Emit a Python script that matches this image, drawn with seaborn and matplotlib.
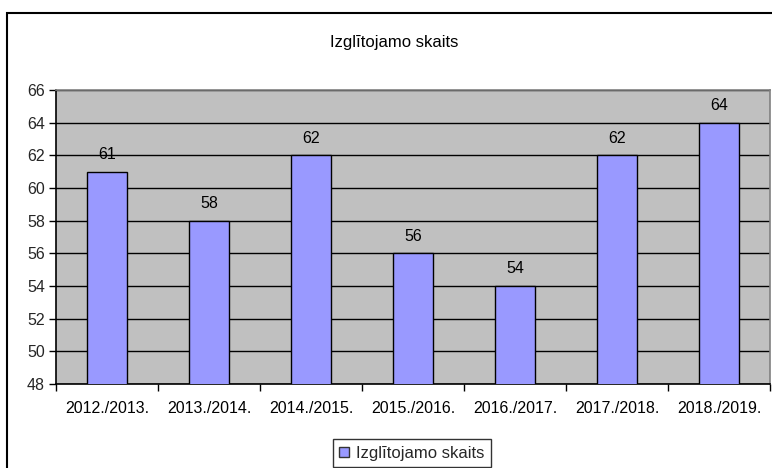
import matplotlib
matplotlib.use("Agg")
import matplotlib.pyplot as plt
import seaborn as sns
import pandas as pd
import numpy as np
from matplotlib.patches import Rectangle, Patch

years = ["2012./2013.", "2013./2014.", "2014./2015.", "2015./2016.",
         "2016./2017.", "2017./2018.", "2018./2019."]
counts = [61, 58, 62, 56, 54, 62, 64]
series_name = "Izglītojamo skaits"
title = "Izglītojamo skaits"
y_ticks = [48, 50, 52, 54, 56, 58, 60, 62, 64, 66]

sns.set_theme(style="white")
plt.rcParams['font.family'] = ['Liberation Sans', 'DejaVu Sans']

df = pd.DataFrame({"year": years, "count": counts})

W, H = 772, 468
fig = plt.figure(figsize=(W / 100, H / 100), dpi=100)
fig.patch.set_facecolor("white")
ax = fig.add_axes([56 / W, 1 - 384 / H, (770 - 56) / W, (384 - 90) / H])
ax.set_facecolor("#C0C0C0")

ax.set_ylim(48, 66)
ax.set_yticks(y_ticks)
ax.set_axisbelow(True)
ax.yaxis.grid(True, color="black", linewidth=1)
ax.xaxis.grid(False)

sns.barplot(data=df, x="year", y="count", color="#9999FF", width=0.4,
            edgecolor="black", linewidth=1, saturation=1, ax=ax, zorder=3)
ax.set_xlim(-0.5, len(years) - 0.5)

for i, v in enumerate(counts):
    ax.annotate(str(v), (i, v), xytext=(0, 7), textcoords="offset points",
                ha="center", va="bottom", fontsize=11.5, color="black")

ax.set_xlabel("")
ax.set_ylabel("")
ax.tick_params(axis="x", which="major", length=0, pad=12, labelsize=11.5, colors="black")
ax.set_xticks(np.arange(-0.5, len(years) + 0.5, 1), minor=True)
ax.tick_params(axis="x", which="minor", length=5, width=1, color="black", direction="out")
ax.tick_params(axis="y", which="major", length=5, width=1, color="black", direction="out",
               labelsize=11.5, pad=3, left=True)
ax.tick_params(axis="x", which="minor", bottom=True)

for s in ["left", "bottom"]:
    ax.spines[s].set_color("black")
    ax.spines[s].set_linewidth(1.2)
for s in ["top", "right"]:
    ax.spines[s].set_color("#808080")
    ax.spines[s].set_linewidth(1.2)

fig.text(394 / W, 1 - 42 / H, title, ha="center", va="center", fontsize=12, color="black")

# outer chart border
border = Rectangle((7 / W, -0.02), 1.02, 1 - 13 / H + 0.02, transform=fig.transFigure,
                   fill=False, edgecolor="black", linewidth=1.5, clip_on=False)
fig.add_artist(border)

handle = Patch(facecolor="#9999FF", edgecolor="#333333", linewidth=1)
leg = fig.legend([handle], [series_name], loc="upper center",
                 bbox_to_anchor=(412 / W, 1 - 439 / H), frameon=True, fancybox=False,
                 fontsize=12, handlelength=0.6, handleheight=0.6, handletextpad=0.4,
                 borderpad=0.4, borderaxespad=0)
leg.get_frame().set_edgecolor("black")
leg.get_frame().set_linewidth(1)

fig.savefig("out.png", dpi=100)
